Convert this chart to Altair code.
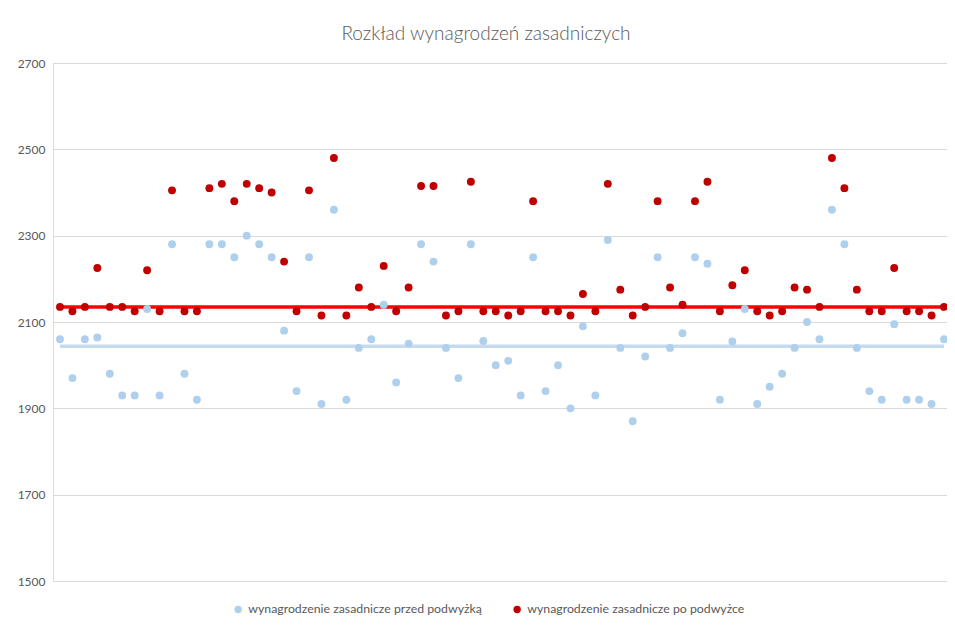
import altair as alt
import pandas as pd

title_text = "Rozkład wynagrodzeń zasadniczych"
series_before = "wynagrodzenie zasadnicze przed podwyżką"
series_after = "wynagrodzenie zasadnicze po podwyżce"

before = [2060, 1970, 2060, 2064, 1980, 1930, 1930, 2130, 1930, 2280,
          1980, 1920, 2280, 2280, 2250, 2300, 2280, 2250, 2080, 1940,
          2250, 1910, 2360, 1920, 2040, 2060, 2140, 1960, 2050, 2280,
          2240, 2040, 1970, 2280, 2056, 2000, 2010, 1930, 2250, 1940,
          2000, 1900, 2090, 1930, 2290, 2040, 1870, 2020, 2250, 2040,
          2074, 2250, 2235, 1920, 2055, 2130, 1910, 1950, 1980, 2040,
          2100, 2060, 2360, 2280, 2040, 1940, 1920, 2095, 1920, 1920,
          1910, 2060]

after = [2135, 2125, 2135, 2225, 2135, 2135, 2125, 2220, 2125, 2405,
         2125, 2125, 2410, 2420, 2380, 2420, 2410, 2400, 2240, 2125,
         2405, 2115, 2480, 2115, 2180, 2135, 2230, 2125, 2180, 2415,
         2415, 2115, 2125, 2425, 2125, 2125, 2115, 2125, 2380, 2125,
         2125, 2115, 2165, 2125, 2420, 2175, 2115, 2135, 2380, 2180,
         2140, 2380, 2425, 2125, 2185, 2220, 2125, 2115, 2125, 2180,
         2175, 2135, 2480, 2410, 2175, 2125, 2125, 2225, 2125, 2125,
         2115, 2135]

avg_before = 2044
avg_after = 2135

y_ticks = [1500, 1700, 1900, 2100, 2300, 2500, 2700]

n = len(before)
idx = list(range(1, n + 1))

points = pd.DataFrame({
    "i": idx + idx,
    "v": before + after,
    "s": [series_before] * n + [series_after] * n,
})
means = pd.DataFrame({
    "avg": ["przed", "po"],
    "m": [avg_before, avg_after],
    "x1": [idx[0], idx[0]],
    "x2": [idx[-1], idx[-1]],
})

FONT = "Lato"
TXT = "#595959"

x_scale = alt.Scale(domain=[0.44, n + 0.24], nice=False, zero=False)
y_scale = alt.Scale(domain=[y_ticks[0], y_ticks[-1]], nice=False, zero=False)

y_axis = alt.Axis(
    values=y_ticks, format="d", title=None, grid=True, gridColor="#d9d9d9", gridWidth=1,
    domain=False, ticks=False, labelPadding=8, labelColor=TXT,
    labelFont=FONT, labelFontSize=12,
)

lines = alt.Chart(means).mark_rule(strokeWidth=3.5).encode(
    x=alt.X("x1:Q", scale=x_scale, axis=None),
    x2="x2:Q",
    y=alt.Y("m:Q", scale=y_scale, axis=y_axis),
    stroke=alt.Stroke("avg:N", scale=alt.Scale(domain=["przed", "po"],
                                                range=["#C6DBF0", "#FF0000"]), legend=None),
)

dots = alt.Chart(points).mark_circle(size=62, opacity=1).encode(
    x=alt.X("i:Q", scale=x_scale, axis=None),
    y=alt.Y("v:Q", scale=y_scale, axis=y_axis),
    color=alt.Color("s:N", scale=alt.Scale(domain=[series_before, series_after],
                                            range=["#AFD0EC", "#C00000"]),
                    legend=alt.Legend(
                        title=None, orient="none", direction="horizontal",
                        legendX=179, legendY=540, symbolType="circle", symbolSize=55,
                        labelFont=FONT, labelFontSize=12.3, labelColor=TXT, labelLimit=0,
                        columnPadding=29, symbolStrokeWidth=0,
                    )),
)

chart = alt.layer(lines, dots).resolve_scale(color="independent").properties(
    width=894, height=518,
    title=alt.TitleParams(title_text, font=FONT, fontSize=19, fontWeight=300,
                          color=TXT, anchor="middle", dx=-14, offset=13),
    autosize=alt.AutoSizeParams(type="none"),
    padding={"left": 45, "top": 55, "right": 0, "bottom": 36},
).configure_view(stroke=None).configure(background="white")

chart.save("out.html", embed_options={"renderer": "svg", "actions": False})
